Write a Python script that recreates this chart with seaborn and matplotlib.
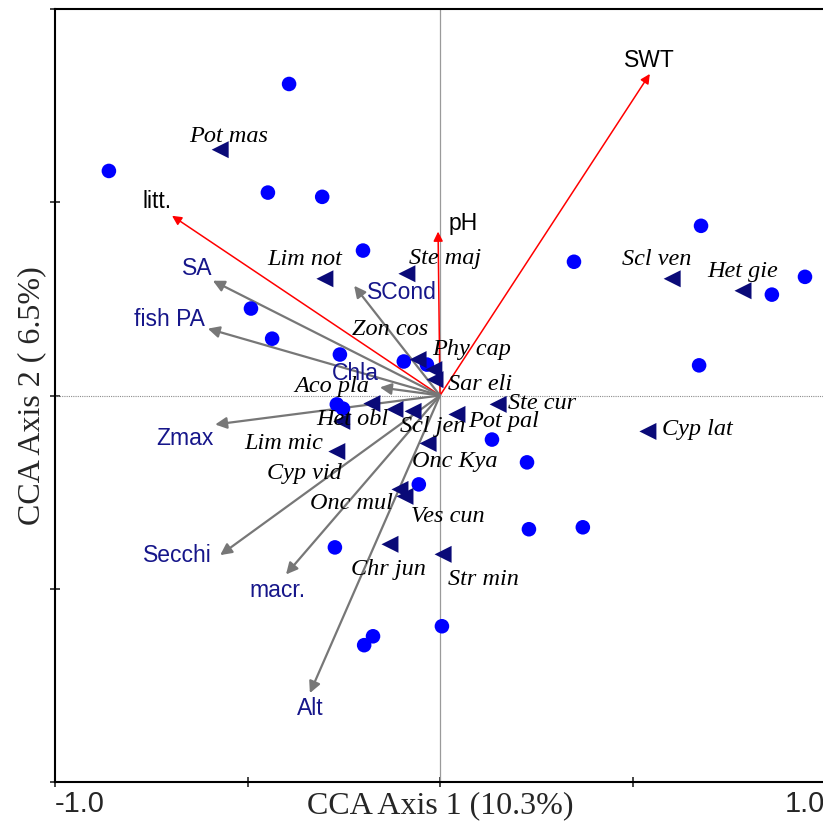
import numpy as np
import pandas as pd
import matplotlib
matplotlib.use("Agg")
import matplotlib.pyplot as plt
import seaborn as sns

# ---- data: site scores ----
site_x = [-0.392, -0.860, -0.447, -0.306, -0.200, -0.491, -0.436, -0.260, -0.094, -0.034,
          -0.268, -0.252, -0.055, -0.273, -0.174, -0.197, 0.005, 0.135, 0.226, 0.231,
          0.371, 0.348, 0.678, 0.948, 0.862, 0.673]
site_y = [0.806, 0.581, 0.525, 0.514, 0.375, 0.225, 0.147, 0.106, 0.088, 0.080,
          -0.023, -0.034, -0.230, -0.393, -0.623, -0.646, -0.597, -0.114, -0.173, -0.346,
          -0.341, 0.346, 0.439, 0.307, 0.261, 0.078]

# ---- data: species scores ----
species = ["Pot mas", "Lim not", "Ste maj", "Zon cos", "Phy cap", "Sar eli", "Aco pla",
           "Het obl", "Cyp vid", "Scl jen", "Pot pal", "Ste cur", "Lim mic", "Onc Kya",
           "Onc mul", "Ves cun", "Chr jun", "Str min", "Cyp lat", "Scl ven", "Het gie"]
species_x = [-0.571, -0.299, -0.086, -0.057, -0.016, -0.013, -0.177, -0.255, -0.117, -0.070,
             0.044, 0.151, -0.268, -0.031, -0.104, -0.091, -0.130, 0.008, 0.540, 0.603, 0.787]
species_y = [0.636, 0.302, 0.315, 0.093, 0.067, 0.041, -0.021, -0.067, -0.036, -0.041,
             -0.049, -0.023, -0.145, -0.124, -0.243, -0.261, -0.385, -0.411, -0.093, 0.302, 0.271]
# label centres for species names
species_lx = [-0.548, -0.351, 0.013, -0.130, 0.081, 0.104, -0.281, -0.229, -0.351, -0.018,
              0.164, 0.265, -0.405, 0.039, -0.229, 0.021, -0.135, 0.114, 0.668, 0.564, 0.787]
species_ly = [0.669, 0.351, 0.354, 0.171, 0.119, 0.028, 0.023, -0.062, -0.202, -0.080,
              -0.067, -0.021, -0.124, -0.171, -0.279, -0.313, -0.450, -0.475, -0.088, 0.351, 0.320]

# ---- data: environmental vectors ----
env = ["litt.", "pH", "SWT", "SA", "fish PA", "SCond", "Chla", "Zmax", "Secchi", "macr.", "Alt"]
env_x = [-0.696, -0.005, 0.545, -0.590, -0.603, -0.223, -0.156, -0.584, -0.571, -0.400, -0.338]
env_y = [0.465, 0.424, 0.832, 0.297, 0.173, 0.284, 0.021, -0.075, -0.413, -0.463, -0.770]
env_group = ["red", "red", "red", "grey", "grey", "grey", "grey", "grey", "grey", "grey", "grey"]
env_lx = [-0.735, 0.021, 0.545, -0.631, -0.704, -0.099, -0.221, -0.662, -0.681, -0.421, -0.338]
env_ly = [0.501, 0.444, 0.868, 0.328, 0.196, 0.266, 0.057, -0.111, -0.413, -0.504, -0.809]
env_ha = ["center", "left", "center", "center", "center", "center", "center", "center",
          "center", "center", "center"]

xticks = [-1.0, -0.5, 0.0, 0.5, 1.0]
xticklabels = ["-1.0", "", "", "", "1.0"]
yticks = [-1.0, -0.5, 0.0, 0.5, 1.0]

sns.set_style("ticks")
plt.rcParams["font.family"] = ["Liberation Sans", "DejaVu Sans"]

fig = plt.figure(figsize=(8.23, 8.21), dpi=100)
ax = fig.add_axes([55 / 823, 1 - 782 / 821, 770 / 823, 773 / 821])

ax.axhline(0, color="#8c8c8c", lw=0.8, ls=(0, (1, 1)), zorder=1)
ax.axvline(0, color="#9a9a9a", lw=0.9, zorder=1)

sites = pd.DataFrame({"x": site_x, "y": site_y})
spp = pd.DataFrame({"x": species_x, "y": species_y, "name": species})

# arrows
for name, ex, ey, grp, lx, ly, ha in zip(env, env_x, env_y, env_group, env_lx, env_ly, env_ha):
    if grp == "red":
        col, lw, tcol, ms = "#ff0000", 1.1, "black", 14
    else:
        col, lw, tcol, ms = "#777777", 1.6, "#16168a", 17
    ax.annotate("", xy=(ex, ey), xytext=(0, 0),
                arrowprops=dict(arrowstyle="-|>", color=col, lw=lw, mutation_scale=ms,
                                shrinkA=0, shrinkB=0), zorder=2)
    ax.text(lx, ly, name, color=tcol, fontsize=16.5, ha=ha, va="center", zorder=5)

sns.scatterplot(data=sites, x="x", y="y", ax=ax, color="#0000ff", s=110,
                edgecolor="none", linewidth=0, zorder=3, legend=False)
sns.scatterplot(data=spp, x="x", y="y", ax=ax, color="#0a0a78", marker="<", s=150,
                edgecolor="none", linewidth=0, zorder=4, legend=False)

for name, lx, ly in zip(species, species_lx, species_ly):
    ax.text(lx, ly, name, family=["Liberation Serif", "DejaVu Serif"], style="italic",
            fontsize=17.5, ha="center", va="center", color="black", zorder=5)

ax.set_xlim(-1.0, 1.0)
ax.set_ylim(-1.0, 1.0)
ax.set_xticks(xticks)
ax.set_xticklabels(xticklabels, fontsize=21)
labs = ax.get_xticklabels()
labs[0].set_ha("left")
labs[-1].set_ha("right")
ax.set_yticks(yticks)
ax.set_yticklabels([])
ax.tick_params(direction="inout", length=7, width=1.2, pad=2)

for side in ["left", "bottom", "top", "right"]:
    ax.spines[side].set_visible(True)
    ax.spines[side].set_linewidth(1.5)
    ax.spines[side].set_color("black")

ax.set_xlabel("CCA Axis 1 (10.3%)", family=["Liberation Serif", "DejaVu Serif"],
              fontsize=23, labelpad=-19)
ax.set_ylabel("CCA Axis 2 ( 6.5%)", family=["Liberation Serif", "DejaVu Serif"],
              fontsize=23, labelpad=1)

fig.savefig("out.png", dpi=100)
